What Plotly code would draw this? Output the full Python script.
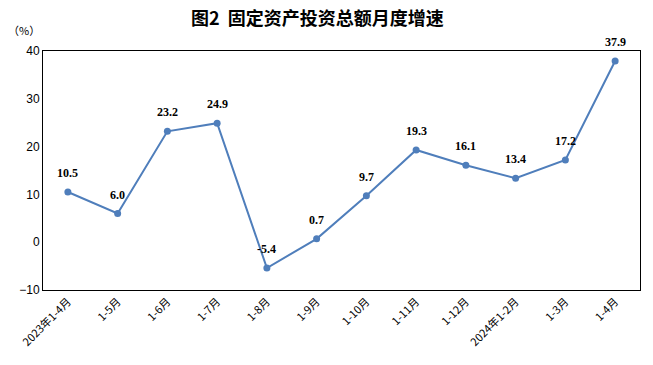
import plotly.graph_objects as go

categories = ["2023年1-4月", "1-5月", "1-6月", "1-7月", "1-8月", "1-9月", "1-10月",
              "1-11月", "1-12月", "2024年1-2月", "1-3月", "1-4月"]
values = [10.5, 6.0, 23.2, 24.9, -5.4, 0.7, 9.7, 19.3, 16.1, 13.4, 17.2, 37.9]
labels = [f"{v:.1f}" for v in values]

fig = go.Figure()
fig.add_trace(go.Scatter(
    x=categories, y=values, mode="lines+markers",
    line=dict(color="#4F7EBB", width=2),
    marker=dict(color="#4F7EBB", size=7),
    cliponaxis=False,
))
for c, v, t in zip(categories, values, labels):
    fig.add_annotation(x=c, y=v, text=f"<b>{t}</b>", showarrow=False,
                       yshift=19, yanchor="middle",
                       font=dict(family="Liberation Serif", size=12, color="black"))

fig.update_layout(
    width=653, height=365,
    margin=dict(l=43, r=13, t=51, b=75, autoexpand=False),
    paper_bgcolor="white", plot_bgcolor="white",
    showlegend=False,
    title=dict(text="<b>图2\u00a0\u00a0固定资产投资总额月度增速</b>", x=0.486, xanchor="center",
               y=1 - 19 / 365, yanchor="middle",
               font=dict(family="Noto Sans CJK SC", size=18, color="black")),
)
fig.add_annotation(text="（%）", xref="paper", yref="paper",
                   x=-43 / 597 + 6 / 597, y=1 + (51 - 30) / 239,
                   xanchor="left", yanchor="middle",
                   showarrow=False, font=dict(family="Noto Sans CJK SC", size=11, color="black"))

fig.update_xaxes(
    type="category", range=[-0.5, 11.5], showgrid=False, automargin=False,
    showline=True, linecolor="black", linewidth=1, mirror=True,
    tickangle=-45, ticks="",
    tickfont=dict(family="Noto Sans CJK SC", size=11, color="black"),
)
fig.update_yaxes(
    range=[-10, 40], dtick=10, showgrid=False, zeroline=False, automargin=False,
    showline=True, linecolor="black", linewidth=1, mirror=True,
    ticks="", tickfont=dict(family="Liberation Sans", size=12, color="black"),
)

fig.write_html("out.html", config={"displayModeBar": False},
               post_script="document.body.style.margin='0';")
